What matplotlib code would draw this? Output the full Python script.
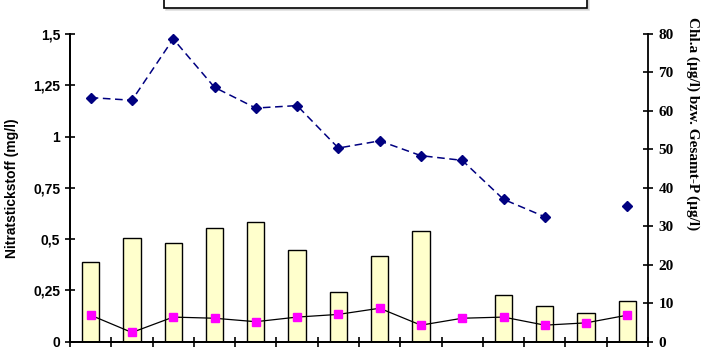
import numpy as np
import matplotlib
matplotlib.use("Agg")
import matplotlib.pyplot as plt
from matplotlib.ticker import FixedLocator, FuncFormatter

# 14 Probenahmetermine, x-Beschriftung im Original abgeschnitten
n_dates = 14
nitrat = [1.19, 1.177, 1.476, 1.24, 1.139, 1.151, 0.944, 0.979, 0.907, 0.884,
          0.694, 0.609, np.nan, 0.662]
chla = [20.6, 27.0, 25.7, 29.5, 31.0, 23.8, 13.0, 22.3, 28.9, np.nan,
        12.1, 9.2, 7.4, 10.5]
gesamt_p = [6.9, 2.4, 6.4, 6.1, 5.2, 6.4, 7.1, 8.7, 4.3, 6.1,
            6.4, 4.3, 4.9, 6.9]
left_ticks = [0, 0.25, 0.5, 0.75, 1, 1.25, 1.5]
right_ticks = [0, 10, 20, 30, 40, 50, 60, 70, 80]


def de_fmt(v, pos):
    s = ("%.2f" % v).rstrip("0").rstrip(".")
    return s.replace(".", ",")


def main():
    x = np.arange(n_dates)
    fig = plt.figure(figsize=(7.07, 3.54), dpi=100)
    ax = fig.add_axes([70 / 707, 12.3 / 354, 578 / 707, 307.7 / 354])
    ax2 = ax.twinx()

    ax2.bar(x, chla, width=0.42, color="#FFFFCC", edgecolor="black",
            linewidth=1.0, zorder=1, label="Chl.a")
    ax2.plot(x, gesamt_p, color="black", linewidth=0.9, marker="s",
             markersize=5.5, markerfacecolor="#FF00FF", markeredgecolor="#FF00FF",
             zorder=3, label="Gesamt-P")
    ax2.set_ylim(0, 80)

    ax.set_zorder(ax2.get_zorder() + 1)
    ax.patch.set_visible(False)
    ax.plot(x, nitrat, color="#000080", linestyle=(0, (5, 3)), linewidth=1.1,
            marker="D", markersize=5, label="Nitratstickstoff")
    ax.set_ylim(0, 1.5)
    ax.set_xlim(-0.5, n_dates - 0.5)

    ax.yaxis.set_major_locator(FixedLocator(left_ticks))
    ax.yaxis.set_major_formatter(FuncFormatter(de_fmt))
    ax2.yaxis.set_major_locator(FixedLocator(right_ticks))
    ax.set_xticks(np.arange(n_dates + 1) - 0.5)
    ax.set_xticklabels([])

    ax.spines["top"].set_visible(False)
    ax2.spines["top"].set_visible(False)
    ax.spines["right"].set_visible(False)
    for a in (ax, ax2):
        for s in a.spines.values():
            s.set_linewidth(1.3)

    ax.tick_params(axis="both", direction="inout", length=7, width=1.2)
    ax.tick_params(axis="y", labelsize=10)
    ax2.tick_params(axis="y", direction="inout", length=7, width=1.2,
                    labelsize=11, pad=4)
    for lab in ax.get_yticklabels():
        lab.set_fontweight("bold")
        lab.set_family("Liberation Sans")
    for lab in ax2.get_yticklabels():
        lab.set_fontweight("bold")
        lab.set_family("Liberation Serif")

    ax.set_ylabel("Nitratstickstoff (mg/l)", fontsize=10, fontweight="bold",
                  family="Liberation Sans", labelpad=10)
    ax2.set_ylabel("Chl.a (µg/l) bzw. Gesamt-P (µg/l)", fontsize=11,
                   fontweight="bold", family="Liberation Serif", rotation=-90,
                   va="center", ha="center")
    ax2.yaxis.set_label_coords(1.078, 0.71)

    handles = ax.get_lines()[:1] + ax2.patches[:1] + ax2.get_lines()[:1]
    leg = fig.legend(handles, ["Nitratstickstoff", "Chl.a", "Gesamt-P"],
                     loc="lower left", ncol=3, mode="expand",
                     bbox_to_anchor=(164 / 707, 1 - 7.5 / 354, 423 / 707, 0.05),
                     borderaxespad=0, borderpad=0.6, fancybox=False,
                     shadow={"color": "0.75", "ox": 1.5, "oy": -1.5},
                     edgecolor="black", framealpha=1, fontsize=9)
    leg.get_frame().set_linewidth(1.2)

    plt.savefig("out.png", dpi=100)


if __name__ == "__main__":
    main()
